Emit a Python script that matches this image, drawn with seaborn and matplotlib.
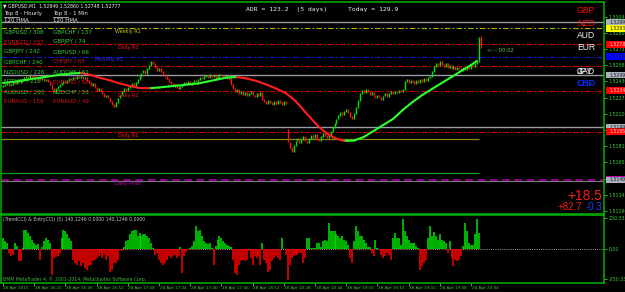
import numpy as np
import pandas as pd
import matplotlib
matplotlib.use("Agg")
import matplotlib.pyplot as plt
import matplotlib.transforms as mtransforms
from matplotlib.patches import Rectangle
import seaborn as sns

# ---------------- data ----------------
symbol_line = "\u25BC GBPUSD,M1  1.52849 1.52860 1.52748 1.52777"
base_price = 1.5100          # close values below are pips above this
first_open_pips = 138
close_pips = [
    139, 140, 141, 139, 140, 142, 141, 143, 142, 144,
    145, 147, 148, 146, 149, 147, 148, 146, 147, 145,
    146, 144, 145, 143, 140, 136, 133, 136, 138, 140,
    141, 143, 142, 144, 146, 145, 147, 146, 148, 147,
    148, 146, 147, 144, 142, 139, 141, 137, 134, 136,
    133, 131, 128, 130, 127, 124, 121, 119, 123, 127,
    130, 133, 136, 134, 137, 139, 141, 138, 142, 145,
    148, 151, 153, 150, 155, 158, 162, 160, 156, 153,
    155, 152, 150, 148, 146, 143, 141, 138, 140, 137,
    136, 138, 140, 142, 141, 143, 140, 142, 144, 143,
    145, 147, 146, 148, 149, 147, 150, 148, 149, 147,
    148, 150, 149, 147, 148, 146, 147, 140, 136, 133,
    135, 131, 133, 130, 132, 129, 131, 133, 130, 128,
    131, 129, 132, 126, 124, 122, 125, 123, 121, 124,
    122, 125, 123, 121, 124, 122, 85, 80, 76, 82,
    86, 88, 84, 87, 90, 86, 84, 88, 91, 89,
    92, 88, 86, 90, 93, 91, 89, 92, 95, 99,
    103, 107, 110, 113, 111, 114, 116, 113, 109, 107,
    112, 118, 125, 131, 134, 132, 135, 133, 130, 132,
    129, 127, 130, 128, 126, 129, 131, 128, 131, 133,
    131, 133, 132, 134, 133, 135, 143, 145, 142, 144,
    143, 141, 144, 142, 145, 143, 146, 144, 147, 148,
    152, 157, 160, 158, 162, 159, 157, 160, 156, 158,
    155, 157, 154, 156, 155, 153, 156, 154, 157, 155,
    158, 157, 160, 162, 184.9, 177.7,
]
gap_open_pips = {146: 97}
last_high_pips = 186.0
last_low_pips = 174.8

hma_idx = list(range(0, 241, 5)) + [243]
hma_pips = [
    141.4, 142.4, 143.8, 145.2, 146.7, 148.1, 149.5, 150.5, 151.0, 149.1,
    146.2, 143.8, 140.9, 138.5, 136.6, 136.4, 137.1, 138.1, 139.0, 140.0,
    140.9, 142.8, 144.8, 146.7, 147.1, 145.7, 143.3, 140.0, 136.1, 131.8,
    124.2, 113.7, 103.2, 94.6, 88.8, 86.0, 86.4, 89.8, 95.5, 101.3,
    107.0, 115.6, 123.2, 129.9, 135.7, 141.4, 147.1, 152.9, 158.6, 162.4,
]

cci_values = [
    89, 61, 47, -36, -64, -50, 47, 20, -106, -100,
    5, 158, 150, 131, 103, 75, 47, 33, 40, -92,
    10, 61, 89, 75, 47, -217, -78, -70, -64, -36,
    89, 158, 145, 120, 89, 61, -92, -120, -133, -106,
    -147, -120, -161, -175, -147, -133, -106, -92, -78, -64,
    -36, -78, -50, -92, -64, -189, -175, -120, -120, -92,
    -10, -22, 11, 61, 75, 117, 145, 158, 158, 103,
    131, 103, 117, 117, 103, 89, 47, 5, -50, -36,
    -92, -120, -133, -120, -92, -64, -78, -64, -50, -78,
    -64, 11, -203, -64, -30, -10, 5, 20, 61, 186,
    145, 158, 103, 61, 47, 40, 47, 5, -133, 19,
    75, 103, 89, 61, 47, 33, 19, 11, -92, -203,
    -217, -133, -106, -92, -106, -92, -22, -78, -133, -64,
    -78, -64, -133, 47, -92, -120, -189, -175, -106, -78,
    -64, -78, -92, 89, 0, -50, -259, -133, -78, -64,
    -50, -50, -36, -36, -120, -78, 89, 89, 5, 3,
    5, 47, 47, 10, 61, 75, 61, 214, 145, 145,
    145, 117, 103, 89, 103, 75, 61, 33, -78, -120,
    61, 186, 145, 103, 103, 75, 47, 11, 11, -36,
    -58, 75, 5, 0, -50, -78, -64, -36, -50, -92,
    89, 131, 89, 89, 30, 242, 145, 103, 75, 47,
    47, 47, 19, 5, -175, -147, -120, -92, 89, 186,
    103, 136, 103, 75, 125, 75, 61, 47, -36, 61,
    -78, -147, -92, -106, -92, -64, 19, 214, 145, 47,
    33, 33, 117, 242, 131, 0,
]

level_grey_top = 1.52995
weekly_r1 = 1.52935
daily_r3 = 1.52785
monthly_r1 = 1.52665
level_red_mid = 1.52577
level_grey_mid = 1.52490
daily_r2 = 1.52340
level_grey_low = 1.51990
daily_r1 = 1.51950
level_olive = 1.51880
level_green = 1.51555
daily_pivot = 1.51490

price_tick_labels = ["1.53045", "1.52890", "1.52735", "1.52585", "1.52430",
                     "1.52275", "1.52120", "1.51965", "1.51810", "1.51655",
                     "1.51500", "1.51345", "1.51190"]
cci_tick_labels = ["250.3333", "0.00", "-250.3333"]

time_labels = ["28 Apr 2015", "28 Apr 16:20", "28 Apr 16:36", "28 Apr 16:52",
               "28 Apr 17:08", "28 Apr 17:24", "28 Apr 17:40", "28 Apr 17:56",
               "28 Apr 18:12", "28 Apr 18:28", "28 Apr 18:44", "28 Apr 19:00",
               "28 Apr 19:16", "28 Apr 19:32", "28 Apr 19:48", "28 Apr 20:04"]
time_label_idx = list(range(0, 241, 16))

hourly_pairs = ["GBPUSD / 308", "EURNZD / 257", "GBPJPY / 242", "GBPCHF / 240",
                "NZDUSD / 226", "NZDJPY / 216", "AUDUSD / 203", "EURAUD / 159"]
hourly_up = [True, False, True, True, True, True, True, False]
minute_pairs = ["GBPCHF / 137", "GBPJPY / 74", "GBPUSD / 66", "CHFJPY / 65",
                "AUDCHF / 61", "EURCAD / 56", "NZDCHF / 53", "EURAUD / 49"]
minute_up = [True, True, True, False, True, False, True, False]

currency_labels = [("GBP", "#ff1010"), ("NZD", "#ff1010"), ("AUD", "#f0f0f0"),
                   ("EUR", "#f0f0f0"), ("CAD", "#f0f0f0"), ("JPY", "#f0f0f0"),
                   ("USD", "#1030ff"), ("CHF", "#1030ff")]
adr_text = "ADR = 123.2  (5 days)"
today_text = "Today = 129.9"
timer_text = "<--- 00:02"
big_value = "+18.5"
small_value_1 = "+82.7"
small_value_2 = "-0.3"
cci_title = "(TrendCCI) & EntryCCI) (5) 140.1246 0.0000 140.1246 0.0000"
copyright_text = "BMM MetaTrader 4, \u00a9 2001-2014, MetaQuotes Software Corp."

# ---------------- style ----------------
sns.set_theme(style="dark", rc={"axes.facecolor": "black", "figure.facecolor": "black",
                                "axes.edgecolor": "#00b000", "axes.grid": False,
                                "patch.force_edgecolor": False,
                                "patch.edgecolor": "none"})
plt.rcParams["font.family"] = ["DejaVu Sans"]

W, H = 625, 292
GREEN_AX = "#00b400"
TXT_GREEN = "#36d236"
TXT_RED = "#dc1414"

fig = plt.figure(figsize=(W / 100, H / 100), dpi=100, facecolor="black")


def fx(x):
    return x / W


def fy(y):
    return 1 - y / H


ax = fig.add_axes([fx(1), fy(214), (604 - 1) / W, (214 - 2) / H])
ax2 = fig.add_axes([fx(1), fy(283), (604 - 1) / W, (283 - 215) / H])

XMIN, XMAX = -1.03, 308.2
for a in (ax, ax2):
    a.set_facecolor("black")
    for s in a.spines.values():
        s.set_color(GREEN_AX)
        s.set_linewidth(1.1)

# ---------------- price panel ----------------
n = len(close_pips)
idx = np.arange(n)
closes = base_price + np.array(close_pips, dtype=float) / 1e4
opens_p = [first_open_pips] + list(close_pips[:-1])
for k, v in gap_open_pips.items():
    opens_p[k] = v
opens = base_price + np.array(opens_p, dtype=float) / 1e4
ccols = ["#00e600" if c >= o else "#ff1414" for o, c in zip(opens, closes)]
lo = np.minimum(opens, closes) - 0.00004
hi = np.maximum(opens, closes) + 0.00004
ax.vlines(idx, lo, hi, colors=ccols, linewidth=1.0, zorder=3)
ax.vlines(n - 1, base_price + last_low_pips / 1e4, base_price + last_high_pips / 1e4,
          color="#ff1414", lw=0.7, zorder=3)

dashdot = (0, (5, 2, 1.5, 2))
x_end_short = 244
levels_full = [
    (level_grey_top, "#9a9aa6", "-", 1.0),
    (weekly_r1, "#b4b400", dashdot, 0.8),
    (daily_r3, "#d40000", dashdot, 0.8),
    (monthly_r1, "#1414c8", dashdot, 0.8),
    (level_red_mid, "#d40000", dashdot, 0.8),
    (level_grey_mid, "#9a9aa6", "-", 1.0),
    (daily_r2, "#d40000", dashdot, 0.8),
    (level_grey_low, "#9a9aa6", "-", 1.0),
    (daily_r1, "#d40000", dashdot, 0.8),
    (daily_pivot - 0.00008, "#7a7a7a", "-", 0.8),
    (daily_pivot, "#b000b0", (0, (5, 3)), 1.1),
]
for val, col, ls, lw in levels_full:
    ax.axhline(val, color=col, ls=ls, lw=lw, zorder=1)
ax.hlines(level_olive, XMIN, x_end_short, color="#8c8c00", lw=0.9, zorder=1)
ax.hlines(level_green, XMIN, x_end_short, color="#00a000", lw=0.9, zorder=1)

# HMA (coloured by slope)
seg_rows = []
for k in range(len(hma_pips) - 1):
    d = "up" if hma_pips[k + 1] >= hma_pips[k] else "down"
    for j in (k, k + 1):
        seg_rows.append({"x": hma_idx[j], "y": base_price + hma_pips[j] / 1e4,
                         "seg": k, "dir": d})
hma_df = pd.DataFrame(seg_rows)
sns.lineplot(data=hma_df, x="x", y="y", units="seg", hue="dir", estimator=None,
             palette={"up": "#2cff2c", "down": "#ff1e1e"}, linewidth=1.5,
             legend=False, ax=ax, sort=False, solid_capstyle="round", zorder=4)

ax.set_xlim(XMIN, XMAX)
ax.set_ylim(1.51162, 1.53188)
ax.set_xlabel("")
ax.set_ylabel("")
ax.set_xticks([])
ax.set_yticks([float(t) for t in price_tick_labels])
ax.set_yticklabels(price_tick_labels)
ax.tick_params(axis="y", which="major", left=False, labelleft=False, right=True,
               labelright=True, colors=TXT_GREEN, labelcolor=TXT_GREEN,
               labelsize=3.4, length=2.2, width=0.6, pad=1)

# price label boxes on the right axis
blend = mtransforms.blended_transform_factory(ax.transAxes, ax.transData)
boxes = [(level_grey_top, "#a8b0bc", "#202020"), (weekly_r1, "#ffff00", "#202020"),
         (daily_r3, "#ff0000", "#ffd0d0"), (monthly_r1, "#0000ff", "#202060"),
         (level_grey_mid, "#a8b0bc", "#202020"), (daily_r2, "#ff0000", "#ffd0d0"),
         (level_grey_low, "#a8b0bc", "#202020"), (daily_r1, "#ff0000", "#ffd0d0"),
         (daily_pivot, "#a8b0bc", "#202020")]
half_h = 3.4 * 0.0000956
for val, fc, tc in boxes:
    ax.add_patch(Rectangle((1.0025, val - half_h), 0.05, 2 * half_h, transform=blend,
                           facecolor=fc, edgecolor="none", clip_on=False, zorder=6))
    ax.text(1.009, val, f"{val:.5f}", transform=blend, fontsize=3.3, color=tc,
            va="center", ha="left", clip_on=False, zorder=7)
ax.add_patch(Rectangle((1.0025, daily_pivot + half_h - 0.00008), 0.05, 0.00012,
                       transform=blend, facecolor="#c000c0", edgecolor="none",
                       clip_on=False, zorder=7))

# ---------------- CCI panel ----------------
cci_arr = np.array(cci_values, dtype=float)
cci_cols = ["#00e600" if v >= 0 else "#ff0000" for v in cci_arr]
ax2.vlines(np.arange(len(cci_arr)), 0, cci_arr, colors=cci_cols, linewidth=1.1,
           zorder=2)
ax2.axhline(0, color="#c8c8c8", ls=(0, (1, 1.6)), lw=0.6, zorder=1)
ax2.set_xlim(XMIN, XMAX)
ax2.set_ylim(-284, 278)
ax2.set_xlabel("")
ax2.set_ylabel("")
ax2.set_yticks([250.3333, 0, -250.3333])
ax2.set_yticklabels(cci_tick_labels)
ax2.tick_params(axis="y", left=False, labelleft=False, right=True, labelright=True,
                colors=TXT_GREEN, labelcolor=TXT_GREEN, labelsize=3.4,
                length=2.2, width=0.6, pad=1)
ax2.set_xticks(time_label_idx)
ax2.tick_params(axis="x", bottom=True, labelbottom=False, colors=TXT_GREEN,
                length=2.5, width=0.6, direction="out")
tblend = mtransforms.blended_transform_factory(ax2.transData, ax2.transAxes)
for i, lab in zip(time_label_idx, time_labels):
    ax2.text(i + 0.3 if i else -0.2, -0.075, lab, transform=tblend, fontsize=3.0,
             color=TXT_GREEN, ha="left", va="center", clip_on=False)


# ---------------- overlay texts ----------------
def T(x, y, s, color="white", size=4.0, ha="left", family=None, **kw):
    fig.text(fx(x), fy(y), s, color=color, fontsize=size, ha=ha, va="center",
             family=family if family else ["DejaVu Sans"], zorder=10, **kw)


T(3, 5.5, symbol_line, color="#f0f0f0", size=3.3)
T(4, 14, "Top 8 - Hourly", color="#e8e8e8", size=4.0)
T(53, 14, "Top 8 - 1 Min", color="#e8e8e8", size=4.0)
for x0, x1 in ((4, 19), (53, 68)):
    fig.add_artist(plt.Line2D([fx(x0), fx(x1)], [fy(17.3), fy(17.3)], color="#e8e8e8",
                              lw=0.5, transform=fig.transFigure))
T(4, 21, "120 HMA", color="#e8e8e8", size=4.0)
T(53, 21, "120 HMA", color="#e8e8e8", size=4.0)
row_y = [32, 42, 52, 62, 71.5, 81.5, 91.5, 101]
for y, s, up in zip(row_y, hourly_pairs, hourly_up):
    T(4, y, s, color=TXT_GREEN if up else TXT_RED, size=4.1)
for y, s, up in zip(row_y, minute_pairs, minute_up):
    T(53, y, s, color=TXT_GREEN if up else TXT_RED, size=4.1)

T(115, 32, "Weekly R1", color="#c8c800", size=3.5)
T(118, 48, "Daily R3", color="#ff1a1a", size=3.5)
T(95, 60, "Monthly R1", color="#3030ff", size=3.5)
T(118, 95, "Daily R2", color="#ff1a1a", size=3.5)
T(118, 136, "Daily R1", color="#ff1a1a", size=3.5)
T(115, 183, "Daily Pivot", color="#c000c0", size=3.5)

T(246, 10, adr_text, color="#f0f0f0", size=4.6, family=["DejaVu Sans Mono"])
T(348, 10, today_text, color="#f0f0f0", size=4.6, family=["DejaVu Sans Mono"])

cur_y = [10.5, 23.5, 35, 47.5, 71.5, 71.5, 83.5, 83.5]
for (s, c), y in zip(currency_labels, cur_y):
    T(577, y, s, color=c, size=6.2, family=["Liberation Sans"])

T(487, 50, timer_text, color="#50c850", size=3.8)
T(602, 196.5, big_value, color="#ff1a1a", size=10, ha="right", family=["Liberation Sans"])
T(582, 206.5, small_value_1, color="#ff1a1a", size=7, ha="right", family=["Liberation Sans"])
T(602, 206.5, small_value_2, color="#1a3cff", size=7, ha="right", family=["Liberation Sans"])

T(3, 219.5, cci_title, color="#c8c8c8", size=3.3)
T(3, 279.5, copyright_text, color="#3cb43c", size=3.3)

fig.savefig("out.png", dpi=100, facecolor="black")
